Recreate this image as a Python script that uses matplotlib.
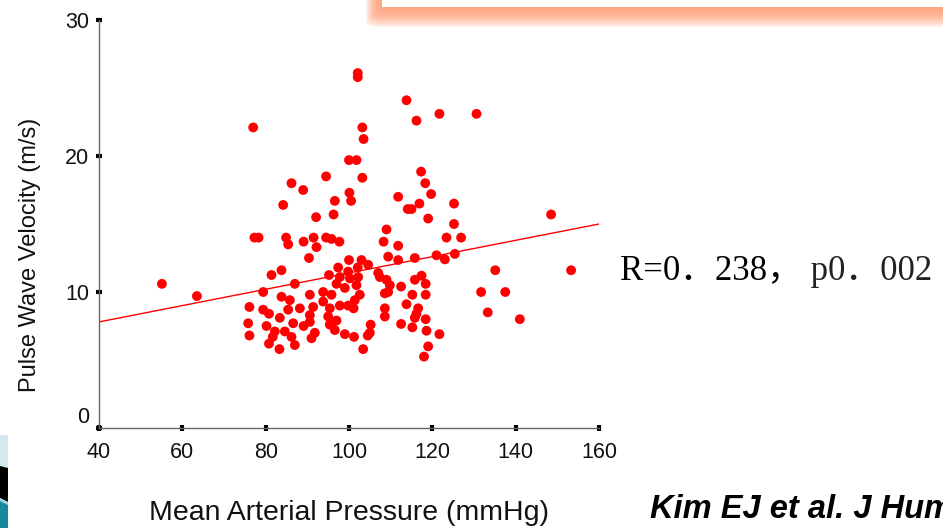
import matplotlib
matplotlib.use("Agg")
import matplotlib.pyplot as plt
from matplotlib.patches import FancyBboxPatch, Polygon
import numpy as np

# ---- data ----
map_mmhg = [55.1, 63.5, 77.0, 86.2, 89.0, 84.2, 77.3, 78.3, 84.9, 85.4, 89.1,
            102.1, 102.1, 103.2, 103.5, 100.0, 101.8, 94.5, 103.2, 100.1, 96.6,
            100.5, 111.8, 96.3, 92.1, 109.0, 91.5, 92.2, 94.5, 95.8, 97.7, 108.3,
            111.8, 113.8, 116.2, 121.7, 130.6, 117.3, 118.3, 119.7, 116.9, 125.2,
            114.1, 115.0, 119.0, 148.5, 125.2, 123.4, 126.9, 125.4, 121.0, 109.4,
            115.8, 123.0, 111.8, 90.4, 100.0, 103.0, 104.6, 97.4, 102.1, 99.8,
            107.0, 81.4, 83.8, 95.2, 97.8, 102.2, 100.2, 87.0, 97.0, 101.8, 99.0,
            79.4, 93.8, 95.8, 83.8, 90.6, 102.6, 85.8, 93.8, 101.4, 97.8, 99.8,
            76.1, 88.2, 91.4, 95.4, 101.1, 85.4, 79.4, 80.8, 90.6, 83.4, 95.0,
            108.6, 108.6, 97.0, 75.8, 86.6, 90.6, 80.2, 89.1, 95.4, 105.2, 82.2,
            84.6, 96.6, 76.1, 81.7, 86.2, 91.0, 91.8, 99.0, 101.2, 104.5, 80.8,
            87.0, 83.3, 103.4, 109.0, 108.6, 107.4, 109.8, 109.4, 112.5, 115.8,
            117.4, 118.4, 115.2, 118.4, 113.8, 116.6, 116.2, 115.8, 118.4, 112.5,
            115.2, 118.6, 121.7, 119.0, 118.0, 105.0, 135.1, 131.7, 137.5, 133.3,
            141.0, 153.3]
pwv_ms = [10.6, 9.7, 22.1, 18.0, 17.5, 16.4, 14.0, 14.0, 14.0, 13.5, 13.7,
          26.1, 25.8, 22.1, 21.25, 19.7, 19.7, 18.5, 18.4, 17.3, 16.7,
          16.7, 17.0, 15.7, 15.5, 14.6, 14.0, 13.3, 14.0, 13.9, 13.7, 13.7,
          13.4, 24.1, 22.6, 23.1, 23.1, 18.85, 18.0, 17.2, 16.5, 16.5,
          16.1, 16.1, 15.4, 15.7, 15.0, 14.0, 14.0, 12.8, 12.7, 12.6,
          12.5, 12.4, 12.35, 12.5, 12.35, 12.35, 12.0, 11.8, 11.8, 11.5,
          11.4, 11.25, 11.6, 11.25, 11.1, 11.1, 11.0, 10.6, 10.6, 10.5, 10.3,
          10.0, 10.0, 9.8, 9.65, 9.8, 9.8, 9.4, 9.3, 9.4, 9.0, 9.0,
          8.9, 8.8, 8.9, 8.8, 8.8, 8.7, 8.7, 8.4, 8.3, 8.1, 8.2,
          8.8, 8.2, 7.9, 7.7, 7.7, 7.8, 7.5, 7.5, 7.6, 7.6, 7.1,
          7.1, 7.2, 6.8, 6.7, 6.7, 6.6, 7.0, 6.9, 6.7, 6.8, 6.2,
          6.1, 5.8, 5.8, 10.9, 9.9, 11.1, 10.5, 10.0, 10.4, 10.9,
          11.2, 10.6, 9.8, 9.8, 9.1, 8.8, 8.4, 8.1, 8.0, 7.65,
          7.4, 7.15, 6.9, 6.0, 5.25, 7.0, 11.6, 10.0, 10.0, 8.5,
          8.0, 11.6]
fit_x = [40, 160]
fit_y = [7.8, 15.0]
x_ticks = [40, 60, 80, 100, 120, 140, 160]
y_ticks = [0, 10, 20, 30]
stat_r = "R=0\uff0e238\uff0c"
stat_p = " p0\uff0e002"
citation = "Kim EJ et al. J Hum"

W, H = 943, 528
fig = plt.figure(figsize=(W / 100, H / 100), dpi=100)
fig.patch.set_facecolor("white")

def fx(px):
    return px / W

def fy(py):
    return 1 - py / H

# ---- decorative top box with orange glow ----
for pad in np.linspace(20, 2, 14):
    fig.patches.append(FancyBboxPatch((fx(382 - pad * 0.8), fy(7 + pad)), fx(700),
                                      fy(-40) - fy(7 + pad),
                                      boxstyle="round,pad=0,rounding_size=0.012",
                                      transform=fig.transFigure, facecolor="#ff9a70",
                                      edgecolor="none", alpha=0.12, zorder=0))
fig.patches.append(FancyBboxPatch((fx(382), fy(7)), fx(700), fy(-40) - fy(7),
                                  boxstyle="square,pad=0", transform=fig.transFigure,
                                  facecolor="white", edgecolor="none", zorder=1))

# ---- decorative bottom-left slice ----
fig.patches.append(Polygon([(fx(0), fy(435)), (fx(8), fy(435)), (fx(8), fy(468)), (fx(0), fy(466))],
                           closed=True, transform=fig.transFigure, facecolor="#d3e8ef",
                           edgecolor="none"))
fig.patches.append(Polygon([(fx(0), fy(466)), (fx(8), fy(468)), (fx(8), fy(502)), (fx(0), fy(498))],
                           closed=True, transform=fig.transFigure, facecolor="black",
                           edgecolor="none"))
fig.patches.append(Polygon([(fx(0), fy(498)), (fx(8), fy(502)), (fx(8), fy(505)), (fx(0), fy(501))],
                           closed=True, transform=fig.transFigure, facecolor="#9fd0dd",
                           edgecolor="none"))
fig.patches.append(Polygon([(fx(0), fy(501)), (fx(8), fy(505)), (fx(8), fy(528)), (fx(0), fy(528))],
                           closed=True, transform=fig.transFigure, facecolor="#16879f",
                           edgecolor="none"))

# ---- axes ----
ax = fig.add_axes([fx(99), fy(428), fx(599) - fx(99), fy(20) - fy(428)])
ax.set_facecolor("none")
ax.scatter(map_mmhg, pwv_ms, s=50, color="#ff0000", edgecolors="none", zorder=3)
ax.plot(fit_x, fit_y, color="#ff0000", lw=1.0, zorder=2)
ax.set_xlim(40, 160)
ax.set_ylim(0, 30)
ax.set_xticks(x_ticks)
ax.set_yticks(y_ticks)
ax.set_xticklabels([str(v) for v in x_ticks])
ax.set_yticklabels([str(v) for v in y_ticks])
for s in ["top", "right"]:
    ax.spines[s].set_visible(False)
for s in ["left", "bottom"]:
    ax.spines[s].set_color("#666666")
    ax.spines[s].set_linewidth(1.0)
ax.tick_params(axis="both", direction="inout", length=4, width=3, color="black",
               labelsize=15.5, labelcolor="#111111")
ax.tick_params(axis="x", pad=8)
ax.tick_params(axis="y", pad=5)
for lab in ax.get_xticklabels() + ax.get_yticklabels():
    lab.set_family(["Liberation Sans", "DejaVu Sans"])
ylabs = ax.get_yticklabels()
ylabs[0].set_verticalalignment("bottom")

fig.text(fx(30), fy(255), "Pulse Wave Velocity (m/s)", rotation=90, ha="center", va="center",
         fontsize=17, family=["Liberation Sans", "DejaVu Sans"], color="#111111")
fig.text(fx(349), fy(513), "Mean Arterial Pressure (mmHg)", ha="center", va="center",
         fontsize=20.5, family=["Liberation Sans", "DejaVu Sans"], color="#111111")
t1 = fig.text(fx(620), fy(271), stat_r, ha="left", va="center", fontsize=25,
              family=["Liberation Serif", "Noto Sans CJK SC"], color="black")
ax.annotate(stat_p, xy=(1.0, 0.5), xycoords=t1, ha="left", va="center", fontsize=25,
            family=["Liberation Serif", "Noto Sans CJK SC"], color="#222222",
            annotation_clip=False)
fig.text(fx(650), fy(509), citation, ha="left", va="center", fontsize=23.5,
         family=["Liberation Sans", "DejaVu Sans"], fontweight="bold", fontstyle="italic",
         color="black")

fig.savefig("out.png", dpi=100)
